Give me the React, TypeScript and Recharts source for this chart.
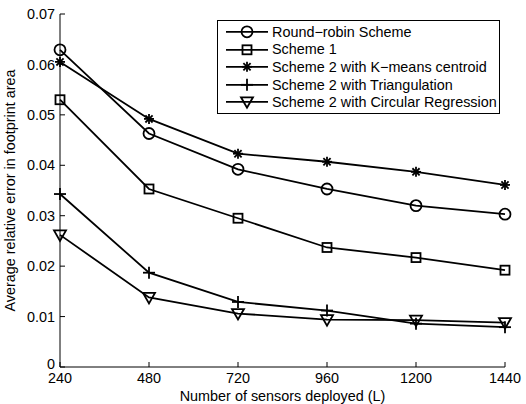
import * as React from "react";
import { LineChart, Line, XAxis, YAxis, Legend } from "recharts";

// sensors deployed (L)
const sensors = [240, 480, 720, 960, 1200, 1440];

// average relative error per scheme
const roundRobin = [0.0629, 0.0463, 0.0392, 0.0353, 0.0320, 0.0303];
const scheme1 = [0.0530, 0.0353, 0.0295, 0.0237, 0.0217, 0.0192];
const kmeans = [0.0605, 0.0492, 0.0423, 0.0407, 0.0387, 0.0361];
const triangulation = [0.0343, 0.0187, 0.0129, 0.0112, 0.0086, 0.0079];
const circular = [0.0262, 0.0138, 0.0106, 0.0094, 0.0093, 0.0088];

const xTicks = [240, 480, 720, 960, 1200, 1440];
const yTicks = [0, 0.01, 0.02, 0.03, 0.04, 0.05, 0.06, 0.07];

const FONT = "'Liberation Sans', Arial, Helvetica, sans-serif";
const FS = 14.4;
const SW = 1.8;

type Kind = "circle" | "square" | "star" | "plus" | "tri";

const SERIES: { key: string; name: string; kind: Kind; values: number[] }[] = [
  { key: "rr", name: "Round\u2212robin Scheme", kind: "circle", values: roundRobin },
  { key: "s1", name: "Scheme 1", kind: "square", values: scheme1 },
  { key: "km", name: "Scheme 2 with K\u2212means centroid", kind: "star", values: kmeans },
  { key: "tr", name: "Scheme 2 with Triangulation", kind: "plus", values: triangulation },
  { key: "cr", name: "Scheme 2 with Circular Regression", kind: "tri", values: circular },
];

const data = sensors.map((L, i) => {
  const row: Record<string, number> = { L };
  SERIES.forEach((s) => (row[s.key] = s.values[i]));
  return row;
});

// MATLAB-ish open markers
function marker(kind: Kind, cx: number, cy: number, key?: string) {
  const p = { stroke: "#000", strokeWidth: SW, fill: "none" };
  switch (kind) {
    case "circle":
      return <circle key={key} cx={cx} cy={cy} r={5.5} {...p} />;
    case "square":
      return <rect key={key} x={cx - 4.5} y={cy - 4.5} width={9} height={9} {...p} />;
    case "star": {
      const a = 5, b = 3.6;
      return (
        <g key={key} {...p}>
          <line x1={cx - a} y1={cy} x2={cx + a} y2={cy} />
          <line x1={cx} y1={cy - a} x2={cx} y2={cy + a} />
          <line x1={cx - b} y1={cy - b} x2={cx + b} y2={cy + b} />
          <line x1={cx - b} y1={cy + b} x2={cx + b} y2={cy - b} />
        </g>
      );
    }
    case "plus":
      return (
        <g key={key} {...p}>
          <line x1={cx - 6} y1={cy} x2={cx + 6} y2={cy} />
          <line x1={cx} y1={cy - 6} x2={cx} y2={cy + 6} />
        </g>
      );
    default:
      return (
        <polygon
          key={key}
          points={`${cx - 6},${cy - 4.5} ${cx + 6},${cy - 4.5} ${cx},${cy + 6}`}
          {...p}
        />
      );
  }
}

const LegendBox = () => (
  <div
    style={{
      border: "1px solid #000",
      background: "#fff",
      width: 281,
      padding: "2px 0",
      fontFamily: FONT,
      fontSize: FS,
      color: "#000",
    }}
  >
    {SERIES.map((s) => (
      <div key={s.key} style={{ display: "flex", alignItems: "center", height: 17.6 }}>
        <svg width={54} height={17.6} style={{ flex: "none" }}>
          <line x1={8} y1={8.8} x2={50} y2={8.8} stroke="#000" strokeWidth={SW} />
          {marker(s.kind, 29, 8.8)}
        </svg>
        <span style={{ whiteSpace: "nowrap" }}>{s.name}</span>
      </div>
    ))}
  </div>
);

const fmtY = (v: number) => (v === 0 ? "0" : v.toFixed(2));
const tickStyle = { fill: "#000", fontSize: FS, fontFamily: FONT };
const axisLine = { stroke: "#000", strokeWidth: 1 };

// y tick label; the "0" sits a bit higher so it clears the 240 below it
const YTick = (props: any) => {
  const { x, y, payload } = props;
  const v = payload.value as number;
  return (
    <text
      x={x}
      y={v === 0 ? y - 3 : y}
      dy="0.355em"
      textAnchor="end"
      fill="#000"
      fontSize={FS}
      fontFamily={FONT}
    >
      {fmtY(v)}
    </text>
  );
};

export default function App() {
  return (
    <div style={{ position: "absolute", left: 0, top: 0, background: "#fff" }}>
      <LineChart
        width={526}
        height={404}
        data={data}
        margin={{ top: 14, right: 21, bottom: 0, left: 0 }}
      >
        <XAxis
          dataKey="L"
          type="number"
          domain={[240, 1440]}
          ticks={xTicks}
          height={37}
          tickSize={-5}
          tickMargin={11}
          tick={tickStyle}
          axisLine={axisLine}
          tickLine={axisLine}
          label={{
            value: "Number of sensors deployed (L)",
            position: "insideBottom",
            offset: 3,
            style: { fill: "#000", fontSize: FS, fontFamily: FONT },
          }}
        />
        <XAxis
          xAxisId="top"
          orientation="top"
          type="number"
          domain={[240, 1440]}
          ticks={xTicks}
          height={0}
          tickSize={-5}
          tickFormatter={() => ""}
          axisLine={axisLine}
          tickLine={axisLine}
        />
        <YAxis
          type="number"
          domain={[0, 0.07]}
          ticks={yTicks}
          width={60}
          tickSize={-5}
          tickMargin={10}
          tick={<YTick />}
          axisLine={axisLine}
          tickLine={axisLine}
          label={{
            value: "Average relative error in footprint area",
            angle: -90,
            position: "center",
            dx: -20,
            style: { fill: "#000", fontSize: FS, fontFamily: FONT, textAnchor: "middle" },
          }}
        />
        <YAxis
          yAxisId="right"
          orientation="right"
          type="number"
          domain={[0, 0.07]}
          ticks={yTicks}
          width={0}
          tickSize={-5}
          tickFormatter={() => ""}
          axisLine={axisLine}
          tickLine={axisLine}
        />
        <Legend
          layout="vertical"
          align="center"
          verticalAlign="middle"
          content={() => <LegendBox />}
          wrapperStyle={{ left: 217, top: 20, width: 283 }}
        />
        {SERIES.map((s) => (
          <Line
            key={s.key}
            dataKey={s.key}
            name={s.name}
            type="linear"
            stroke="#000"
            strokeWidth={SW}
            isAnimationActive={false}
            dot={(props: any) => marker(s.kind, props.cx, props.cy, `${s.key}-${props.index}`)}
            activeDot={false}
          />
        ))}
      </LineChart>
    </div>
  );
}
